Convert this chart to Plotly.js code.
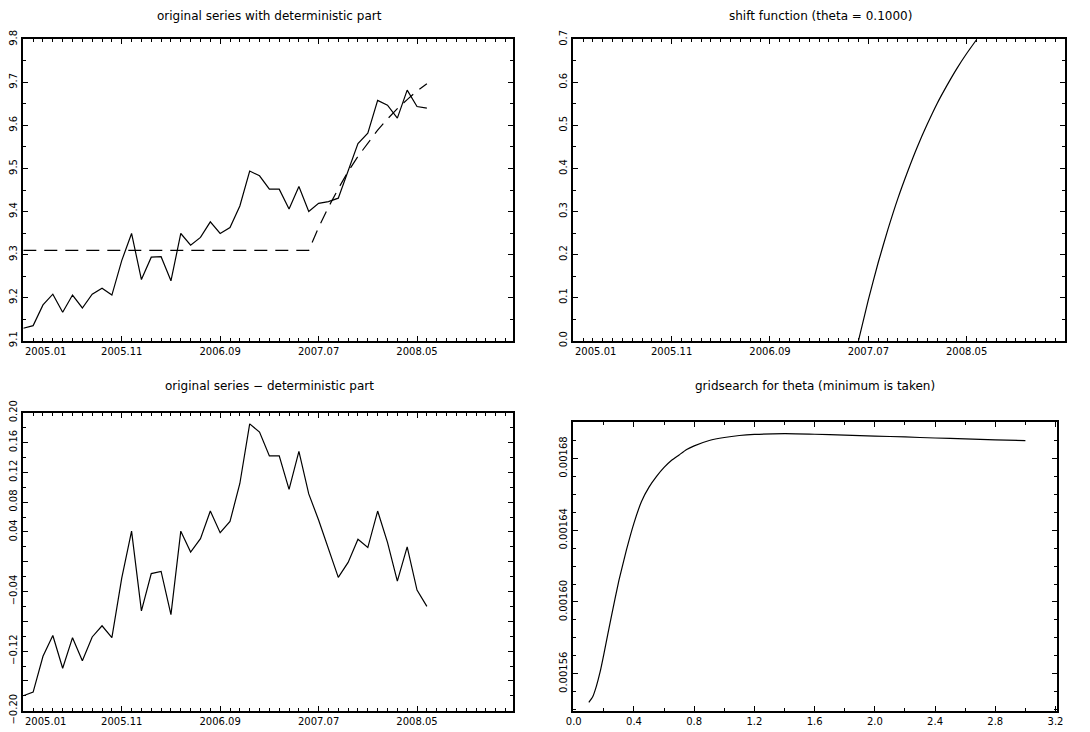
<!DOCTYPE html>
<html>
<head>
<meta charset="utf-8">
<script src="https://cdn.plot.ly/plotly-3.0.1.min.js"></script>
<style>
  html, body { margin: 0; padding: 0; background: #fff; }
  #chart { width: 1090px; height: 732px; }
</style>
</head>
<body>
<div id="chart"></div>
<script>
// ---------- data ----------
const periods = [
  '2005.01','2005.02','2005.03','2005.04','2005.05','2005.06','2005.07','2005.08','2005.09','2005.10',
  '2005.11','2005.12','2006.01','2006.02','2006.03','2006.04','2006.05','2006.06','2006.07','2006.08',
  '2006.09','2006.10','2006.11','2006.12','2007.01','2007.02','2007.03','2007.04','2007.05','2007.06',
  '2007.07','2007.08','2007.09','2007.10','2007.11','2007.12','2008.01','2008.02','2008.03','2008.04',
  '2008.05','2008.06'
];

const originalSeries = [
  9.129, 9.135, 9.183, 9.208, 9.166, 9.206, 9.176, 9.208, 9.222, 9.206,
  9.286, 9.349, 9.242, 9.294, 9.295, 9.239, 9.349, 9.322, 9.340, 9.376,
  9.349, 9.363, 9.413, 9.494, 9.483, 9.452, 9.452, 9.406, 9.458, 9.400,
  9.419, 9.423, 9.431, 9.496, 9.558, 9.582, 9.658, 9.647, 9.617, 9.682,
  9.644, 9.640
];

const deterministicPart = [
  9.31, 9.31, 9.31, 9.31, 9.31, 9.31, 9.31, 9.31, 9.31, 9.31,
  9.31, 9.31, 9.31, 9.31, 9.31, 9.31, 9.31, 9.31, 9.31, 9.31,
  9.31, 9.31, 9.31, 9.31, 9.31, 9.31, 9.31, 9.31, 9.31, 9.31,
  9.363, 9.410, 9.453, 9.493, 9.528, 9.560, 9.589, 9.615, 9.639, 9.660,
  9.680, 9.697
];

const shiftFunction = [
  0, 0, 0, 0, 0, 0, 0, 0, 0, 0,
  0, 0, 0, 0, 0, 0, 0, 0, 0, 0,
  0, 0, 0, 0, 0, 0, 0, 0, 0, 0,
  0.095, 0.181, 0.259, 0.330, 0.393, 0.451, 0.503, 0.551, 0.593, 0.632,
  0.667, 0.699
];

const residualSeries = [
  -0.180, -0.175, -0.127, -0.099, -0.143, -0.102, -0.133, -0.101, -0.086, -0.102,
  -0.022,  0.041, -0.066, -0.016, -0.013, -0.071,  0.041,  0.013,  0.031,  0.068,
   0.039,  0.054,  0.105,  0.185,  0.174,  0.142,  0.142,  0.097,  0.148,  0.091,
   0.056,  0.016, -0.021, -0.001,  0.030,  0.019,  0.068,  0.026, -0.026,  0.020,
  -0.038, -0.060
];

const thetaGrid = [0.10, 0.125, 0.15, 0.175, 0.20, 0.25, 0.30, 0.35, 0.40, 0.45, 0.50, 0.55, 0.60, 0.65,
                   0.70, 0.75, 0.80, 0.90, 1.00, 1.10, 1.20, 1.40, 1.60, 1.80, 2.00, 2.20,
                   2.40, 2.60, 2.80, 3.00];
const gridsearchValues = [0.001544, 0.001547, 0.001553, 0.001561, 0.001571, 0.001592, 0.001612, 0.001629, 0.001644, 0.001656,
                          0.001664, 0.001670, 0.001675, 0.001679, 0.001682, 0.001685, 0.001687, 0.0016900, 0.0016917, 0.0016928,
                          0.0016934, 0.0016938, 0.0016935, 0.0016930, 0.0016925, 0.0016920, 0.0016914, 0.0016909, 0.0016904, 0.0016900];

const dateTickMonths = [10, 20, 30, 40];
const dateTickLabels = ['2005.11', '2006.09', '2007.07', '2008.05'];
const firstDateLabel = '2005.01';

const panelTitles = [
  'original series with deterministic part',
  'shift function (theta = 0.1000)',
  'original series − deterministic part',
  'gridsearch for theta (minimum is taken)'
];

// ---------- drawing ----------
const monthIndex = periods.map((p, i) => i);
// the shift function is drawn from its start month (before it, it lies on the axis)
const shiftStart = shiftFunction.findIndex(v => v > 0) - 1;

const W = 1090, H = 732;
const px = v => v / W;
const py = v => 1 - v / H;

const FONT = { family: 'DejaVu Sans, sans-serif', size: 10, color: '#000' };
const TITLE_FONT = { family: 'DejaVu Sans, sans-serif', size: 12, color: '#000' };
const lineStyle = { color: '#000', width: 1.2 };

function baseAxis(extra) {
  return Object.assign({
    showline: true, linecolor: '#000', linewidth: 2, mirror: 'ticks',
    ticks: 'inside', ticklen: 5, tickwidth: 1, tickcolor: '#000',
    showgrid: false, zeroline: false, tickfont: FONT, fixedrange: true
  }, extra);
}
function minor(dtick, tick0) {
  return { tickmode: 'linear', tick0: tick0, dtick: dtick, ticks: 'inside', ticklen: 3, tickwidth: 1, tickcolor: '#000', showgrid: false };
}
function dateAxis(domain, range, anchor) {
  return baseAxis({
    domain: domain, range: range, anchor: anchor,
    tickmode: 'array', tickvals: dateTickMonths, ticktext: dateTickLabels,
    minor: minor(1, 0)
  });
}

const leftX = [px(23.3), px(512.5)];
const rightXTop = [px(573.3), px(1065)];
const rightXBot = [px(573.3), px(1056.7)];
const topY = [py(340.7), py(39.3)];
const botYL = [py(710.7), py(412.7)];
const botYR = [py(710.7), py(421.7)];

const traces = [
  { x: monthIndex, y: originalSeries, xaxis: 'x', yaxis: 'y', type: 'scatter', mode: 'lines', line: lineStyle, hoverinfo: 'skip' },
  { x: monthIndex, y: deterministicPart, xaxis: 'x', yaxis: 'y', type: 'scatter', mode: 'lines', line: { color: '#000', width: 1.2, dash: '13px,8px' }, hoverinfo: 'skip' },
  { x: monthIndex.slice(shiftStart), y: shiftFunction.slice(shiftStart), xaxis: 'x2', yaxis: 'y2', type: 'scatter', mode: 'lines', line: Object.assign({ shape: 'spline', smoothing: 0.5 }, lineStyle), hoverinfo: 'skip' },
  { x: monthIndex, y: residualSeries, xaxis: 'x3', yaxis: 'y3', type: 'scatter', mode: 'lines', line: lineStyle, hoverinfo: 'skip' },
  { x: thetaGrid, y: gridsearchValues, xaxis: 'x4', yaxis: 'y4', type: 'scatter', mode: 'lines', line: Object.assign({ shape: 'spline', smoothing: 0.5 }, lineStyle), hoverinfo: 'skip' }
];

const layout = {
  width: W, height: H,
  margin: { l: 0, r: 0, t: 0, b: 0 },
  paper_bgcolor: '#fff', plot_bgcolor: '#fff',
  showlegend: false,
  font: FONT,
  xaxis: dateAxis(leftX, [0, 49.7], 'y'),
  yaxis: baseAxis({ domain: topY, range: [9.1, 9.8], anchor: 'x', tickmode: 'array',
    tickvals: [9.1, 9.2, 9.3, 9.4, 9.5, 9.6, 9.7, 9.8], tickformat: '.1f', tickangle: -90, minor: minor(0.05, 9.1) }),
  xaxis2: dateAxis(rightXTop, [0, 50], 'y2'),
  yaxis2: baseAxis({ domain: topY, range: [0, 0.7], anchor: 'x2', tickmode: 'array',
    tickvals: [0, 0.1, 0.2, 0.3, 0.4, 0.5, 0.6, 0.7], tickformat: '.1f', tickangle: -90, minor: minor(0.05, 0) }),
  xaxis3: dateAxis(leftX, [0, 49.7], 'y3'),
  yaxis3: baseAxis({ domain: botYL, range: [-0.2, 0.2], anchor: 'x3', tickmode: 'array',
    tickvals: [-0.2, -0.16, -0.12, -0.08, -0.04, 0, 0.04, 0.08, 0.12, 0.16, 0.2],
    ticktext: ['−0.20', '', '−0.12', '', '−0.04', '', '0.04', '0.08', '0.12', '0.16', '0.20'],
    tickangle: -90, minor: minor(0.02, -0.2) }),
  xaxis4: baseAxis({ domain: rightXBot, range: [-0.003, 3.208], anchor: 'y4', tickmode: 'array',
    tickvals: [0, 0.4, 0.8, 1.2, 1.6, 2.0, 2.4, 2.8, 3.2], tickformat: '.1f', minor: minor(0.2, 0) }),
  yaxis4: baseAxis({ domain: botYR, range: [0.0015394, 0.0017005], anchor: 'x4', tickmode: 'array',
    tickvals: [0.00156, 0.0016, 0.00164, 0.00168], tickformat: '.5f', tickangle: -90, minor: minor(0.00001, 0.00154) }),
  annotations: [
    { text: panelTitles[0], xref: 'paper', yref: 'paper', x: px(269), y: py(16), xanchor: 'center', yanchor: 'middle', showarrow: false, font: TITLE_FONT },
    { text: panelTitles[1], xref: 'paper', yref: 'paper', x: px(820), y: py(16), xanchor: 'center', yanchor: 'middle', showarrow: false, font: TITLE_FONT },
    { text: panelTitles[2], xref: 'paper', yref: 'paper', x: px(269), y: py(386), xanchor: 'center', yanchor: 'middle', showarrow: false, font: TITLE_FONT },
    { text: panelTitles[3], xref: 'paper', yref: 'paper', x: px(815), y: py(386), xanchor: 'center', yanchor: 'middle', showarrow: false, font: TITLE_FONT },
    { text: firstDateLabel, xref: 'x', yref: 'paper', x: 0, y: py(351.5), xanchor: 'left', yanchor: 'middle', showarrow: false, font: FONT },
    { text: firstDateLabel, xref: 'x2', yref: 'paper', x: 0, y: py(351.5), xanchor: 'left', yanchor: 'middle', showarrow: false, font: FONT },
    { text: firstDateLabel, xref: 'x3', yref: 'paper', x: 0, y: py(721.5), xanchor: 'left', yanchor: 'middle', showarrow: false, font: FONT }
  ]
};

Plotly.newPlot('chart', traces, layout, { staticPlot: true, displayModeBar: false });
</script>
</body>
</html>
